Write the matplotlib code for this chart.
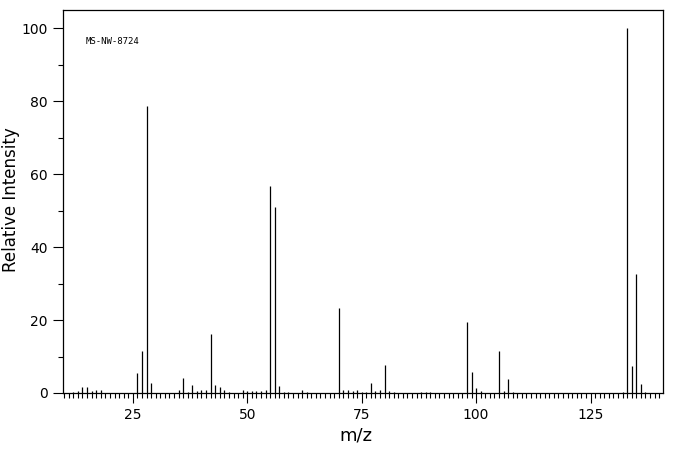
import matplotlib
matplotlib.use("Agg")
import matplotlib.pyplot as plt
from matplotlib.ticker import MultipleLocator

# peak list
mz = [12, 13, 14, 15, 16, 17, 18,
      26, 27, 28, 29,
      35, 36, 37, 38, 39, 40, 41, 42, 43, 44, 45, 46,
      49, 50, 51, 52, 53, 54, 55, 56, 57, 58, 59,
      62, 63,
      70, 71, 72, 73, 74, 75, 76, 77, 78, 79, 80, 81, 82,
      88, 89, 90,
      98, 99, 100, 101,
      105, 106, 107, 108,
      132, 133, 134, 135, 136, 137]
intensity = [0.4, 0.5, 1.7, 1.7, 0.6, 0.7, 0.7,
             5.5, 11.6, 78.7, 2.8,
             0.7, 4.0, 0.3, 2.1, 0.6, 0.7, 0.7, 16.2, 2.1, 1.6, 0.7, 0.3,
             0.9, 0.5, 0.5, 0.5, 0.5, 0.9, 56.8, 51.1, 1.8, 0.3, 0.3,
             0.8, 0.3,
             23.2, 0.7, 0.7, 0.5, 0.8, 0.3, 0.3, 2.7, 0.5, 0.7, 7.8, 0.5, 0.3,
             0.3, 0.3, 0.3,
             19.4, 5.7, 1.4, 0.5,
             11.5, 0.5, 3.7, 0.3,
             0.3, 100.0, 7.4, 32.5, 2.4, 0.3]
sample_id = "MS-NW-8724"


def main() -> None:
    fig = plt.figure(figsize=(6.76, 4.55), dpi=100)
    ax = fig.add_axes([0.0936, 0.1363, 0.8876, 0.8417])

    ax.vlines(mz, 0, intensity, colors="black", linewidth=0.9)

    ax.set_xlim(9.8, 140.9)
    ax.set_ylim(0, 105)

    ax.xaxis.set_major_locator(MultipleLocator(25))
    ax.xaxis.set_minor_locator(MultipleLocator(1))
    ax.yaxis.set_major_locator(MultipleLocator(20))
    ax.yaxis.set_minor_locator(MultipleLocator(10))

    ax.tick_params(axis="both", which="major", direction="out", length=7,
                   width=0.8, labelsize=10, colors="black")
    ax.tick_params(axis="both", which="minor", direction="out", length=3.8,
                   width=0.8)
    ax.tick_params(axis="x", which="major", pad=4)
    ax.tick_params(axis="y", which="major", pad=4)

    for spine in ax.spines.values():
        spine.set_linewidth(0.9)

    ax.text(14.7, 96.4, sample_id, fontsize=6.5, va="center", ha="left",
            family="DejaVu Sans Mono")

    ax.set_xlabel("m/z", fontsize=13)
    ax.set_ylabel("Relative Intensity", fontsize=12)
    ax.xaxis.set_label_coords(0.488, -0.088)
    ax.yaxis.set_label_coords(-0.072, 0.506)

    fig.savefig("out.png", dpi=100)


if __name__ == "__main__":
    main()
